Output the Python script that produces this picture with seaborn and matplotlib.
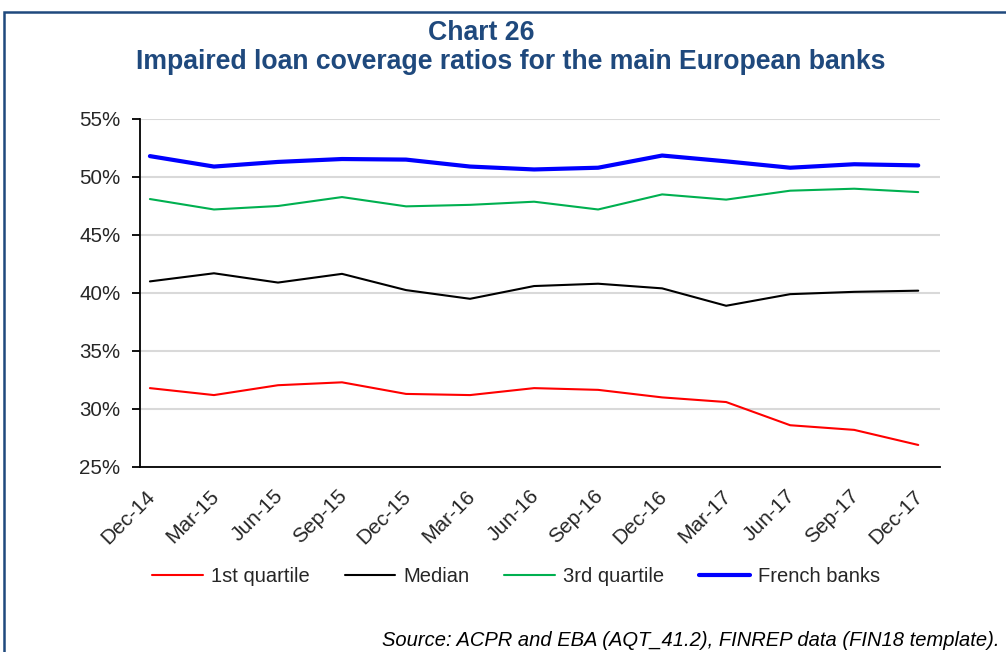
import numpy as np
import pandas as pd
import matplotlib
matplotlib.use("Agg")
import matplotlib.pyplot as plt
from matplotlib.patches import Rectangle
from matplotlib.lines import Line2D
import matplotlib.transforms as mtransforms
import seaborn as sns

dates = ["Dec-14", "Mar-15", "Jun-15", "Sep-15", "Dec-15", "Mar-16", "Jun-16",
         "Sep-16", "Dec-16", "Mar-17", "Jun-17", "Sep-17", "Dec-17"]
q1 = [31.8, 31.2, 32.05, 32.3, 31.3, 31.2, 31.8, 31.65, 31.0, 30.6, 28.6, 28.2, 26.9]
median = [41.0, 41.7, 40.9, 41.65, 40.25, 39.5, 40.6, 40.8, 40.4, 38.9, 39.9, 40.1, 40.2]
q3 = [48.1, 47.2, 47.5, 48.27, 47.47, 47.6, 47.87, 47.2, 48.5, 48.05, 48.82, 48.99, 48.7]
french = [51.8, 50.9, 51.3, 51.55, 51.5, 50.9, 50.65, 50.8, 51.85, 51.35, 50.8, 51.1, 51.0]
series_names = ["1st quartile", "Median", "3rd quartile", "French banks"]
yticks = [25, 30, 35, 40, 45, 50, 55]

sns.set_style("white")
plt.rcParams['font.family'] = ['Liberation Sans', 'DejaVu Sans']

navy = "#1F497D"
colors = ["#FF0000", "#000000", "#00B050", "#0000FF"]
widths = [1.5, 1.5, 1.5, 3.0]

fig = plt.figure(figsize=(10.06, 6.52), dpi=100)
ax = fig.add_axes([140/1006, 1-467/652, 800/1006, 348/652])

x = np.arange(len(dates))
for name, vals, c, w in zip(series_names, [q1, median, q3, french], colors, widths):
    df = pd.DataFrame({"x": x, "y": vals})
    sns.lineplot(data=df, x="x", y="y", ax=ax, color=c, linewidth=w, legend=False)

off = 0.155
ax.set_xlim(-off, 12 + 0.34)
ax.set_ylim(25, 55)
ax.set_yticks(yticks)
ax.set_yticklabels([f"{v}%" for v in yticks], fontsize=14.8)
ax.set_xticks(x)
ax.set_xticklabels(dates, rotation=45, ha="right", rotation_mode="anchor", fontsize=15)
ax.set_xticks(x - off, minor=True)
ax.tick_params(axis="x", which="major", length=0, pad=14)
ax.tick_params(axis="x", which="minor", length=6, width=1.3, direction="out", color="black")
ax.tick_params(axis="y", length=6, width=1.3, direction="out", color="black", pad=8, left=True)
shift = mtransforms.ScaledTranslation(-5/100, 0, fig.dpi_scale_trans)
for lab in ax.get_xticklabels():
    lab.set_transform(lab.get_transform() + shift)
ax.set_xlabel("")
ax.set_ylabel("")
ax.grid(axis="y", color="#D9D9D9", linewidth=1.5)
ax.set_axisbelow(True)
for s in ["top", "right"]:
    ax.spines[s].set_visible(False)
for s in ["left", "bottom"]:
    ax.spines[s].set_color("black")
    ax.spines[s].set_linewidth(1.3)

handles = [Line2D([], [], color=c, linewidth=w) for c, w in zip(colors, widths)]
fig.legend(handles, series_names, loc="center", bbox_to_anchor=(516/1006, 1-577/652),
           ncol=4, frameon=False, fontsize=14.5, handlelength=2.5, handletextpad=0.4,
           columnspacing=1.75)

fig.text(481/1006, 1-33/652, "Chart 26", ha="center", va="center",
         fontsize=19.2, fontweight="bold", color=navy)
fig.text(511/1006, 1-62/652, "Impaired loan coverage ratios for the main European banks",
         ha="center", va="center", fontsize=19.2, fontweight="bold", color=navy)
fig.text(1000/1006, 1-640/652, "Source: ACPR and EBA (AQT_41.2), FINREP data (FIN18 template).",
         ha="right", va="center", fontsize=14.5, style="italic", color="black")

fig.patches.append(Rectangle((4/1006, -0.1), 1.2, 1.1 - 12/652, transform=fig.transFigure,
                             fill=False, edgecolor=navy, linewidth=1.8))

fig.savefig("out.png", dpi=100)
